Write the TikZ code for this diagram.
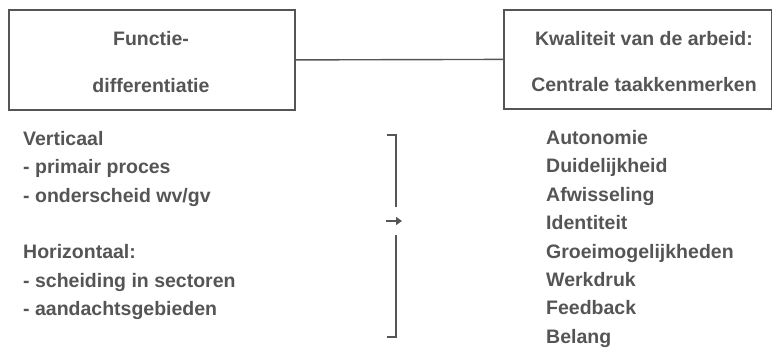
\documentclass[tikz,border=0pt]{standalone}
\usepackage{fontspec}
\setmainfont{Liberation Sans}
\usetikzlibrary{arrows.meta}
\definecolor{ink}{HTML}{555555}
\begin{document}
\begin{tikzpicture}[x=1pt,y=-1pt,
  txt/.style={inner sep=0pt,text=ink,anchor=base,font=\fontsize{19.5}{22}\selectfont\bfseries},
  lst/.style={txt,anchor=base west},
  boxline/.style={draw=ink,line width=1.8pt},
  conn/.style={draw=ink,line width=1.4pt}]
\useasboundingbox (0,0) rectangle (772,349);
\node[boxline,minimum width=286pt,minimum height=100pt,inner sep=0pt,anchor=north west] (lb) at (8,9) {};
\node[boxline,minimum width=268pt,minimum height=99pt,inner sep=0pt,anchor=north west] (rb) at (503,9) {};
\node[txt] (l1) at (151,45) {Functie-};
\node[txt] (l2) at (151,92) {differentiatie};
\node[txt] (r1) at (644,45) {Kwaliteit van de arbeid:};
\node[txt] (r2) at (644,91) {Centrale taakkenmerken};
\draw[conn] (lb.east) -- (rb.west);
\node[lst] (a1) at (23,145) {Verticaal};
\node[lst] (a2) at (23,173) {- primair proces};
\node[lst] (a3) at (23,202) {- onderscheid wv/gv};
\node[lst] (a4) at (23,258) {Horizontaal:};
\node[lst] (a5) at (23,287) {- scheiding in sectoren};
\node[lst] (a6) at (23,315) {- aandachtsgebieden};
\node[lst] (b1) at (546,144.5) {Autonomie};
\node[lst] (b2) at (546,172.5) {Duidelijkheid};
\node[lst] (b3) at (546,201) {Afwisseling};
\node[lst] (b4) at (546,229) {Identiteit};
\node[lst] (b5) at (546,258) {Groeimogelijkheden};
\node[lst] (b6) at (546,286) {Werkdruk};
\node[lst] (b7) at (546,314) {Feedback};
\node[lst] (b8) at (546,343) {Belang};
\coordinate (t0) at (387,135);
\coordinate (t1) at (396,135);
\coordinate (t2) at (396,207);
\coordinate (u0) at (396,235);
\coordinate (u1) at (396,337);
\coordinate (u2) at (387,337);
\coordinate (ar0) at (386,221);
\coordinate (ar1) at (402,221);
\draw[conn] (t0) -- (t1) -- (t2);
\draw[conn] (u0) -- (u1) -- (u2);
\draw[ink,line width=2.2pt,-{Triangle[length=6pt,width=8pt]}] (ar0) -- (ar1);
\end{tikzpicture}
\end{document}
